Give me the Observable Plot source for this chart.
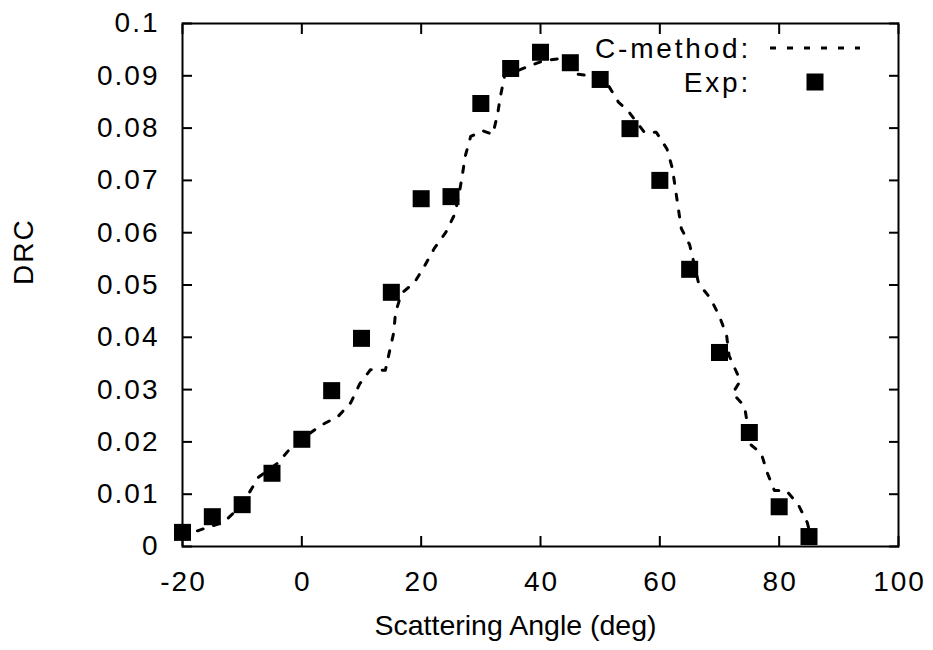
<!DOCTYPE html>
<html>
<head>
<meta charset="utf-8">
<script src="https://cdn.jsdelivr.net/npm/d3@7"></script>
<script src="https://cdn.jsdelivr.net/npm/@observablehq/plot@0.6"></script>
<style>
  html, body { margin: 0; padding: 0; background: #fff; }
  #chart { position: relative; width: 933px; height: 650px; }
  #chart svg text { letter-spacing: 2px; }
  #chart svg .xlab text { letter-spacing: 0px; }
  #chart svg .legend text { letter-spacing: 2.8px; }
</style>
</head>
<body>
<div id="chart"></div>
<script>
// Experimental points (scattering angle in deg, DRC)
const expAngle = [-20, -15, -10, -5, 0, 5, 10, 15, 20, 25, 30, 35, 40, 45, 50, 55, 60, 65, 70, 75, 80, 85];
const expDRC   = [0.0027, 0.0057, 0.0080, 0.0140, 0.0205, 0.0298, 0.0398, 0.0486, 0.0665, 0.0669, 0.0847,
                  0.0914, 0.0945, 0.0925, 0.0893, 0.0799, 0.0700, 0.0530, 0.0371, 0.0218, 0.0076, 0.0019];

// C-method curve
const cAngle = [-17.5, -13, -10, -7.3, -4.1, -2.2, 0, 3.1, 6.1, 8.2, 9.7, 11.5, 14.0, 14.7, 15.4, 15.7, 16.7,
                18.9, 20.6, 22.2, 24.1, 25.6, 26.3, 26.9, 27.4, 28.3, 30.3, 32.0, 32.8, 33.3, 34.0, 37.1,
                40.5, 43.3, 45.5, 48.4, 51.4, 53.1, 54.6, 57.4, 59.4, 61.2, 62.1, 62.6, 63.1, 63.6, 65.0,
                66.5, 68.5, 70.0, 71.2, 71.6, 73.5, 72.2, 74.2, 75.2, 77.0, 78.0, 79.2, 81.2, 83.2, 84.7, 85.3];
const cDRC   = [0.0030, 0.0047, 0.0080, 0.0132, 0.0159, 0.0184, 0.0205, 0.0231, 0.0249, 0.0275, 0.0311, 0.0338,
                0.0337, 0.0373, 0.0409, 0.0447, 0.0484, 0.0505, 0.0537, 0.0570, 0.0600, 0.0635, 0.0670, 0.0710,
                0.0747, 0.0784, 0.0795, 0.0788, 0.0826, 0.0862, 0.0900, 0.0914, 0.0929, 0.0933, 0.0904, 0.0900,
                0.0881, 0.0849, 0.0834, 0.0792, 0.0792, 0.0760, 0.0723, 0.0685, 0.0646, 0.0608, 0.0577, 0.0503,
                0.0474, 0.0440, 0.0403, 0.0365, 0.0317, 0.0293, 0.0268, 0.0195, 0.0178, 0.0141, 0.0107, 0.0107,
                0.0080, 0.0046, 0.0020];

const xTicks = [-20, 0, 20, 40, 60, 80, 100];
const yTicks = [0, 0.01, 0.02, 0.03, 0.04, 0.05, 0.06, 0.07, 0.08, 0.09, 0.1];
const xLabel = "Scattering Angle (deg)";
const yLabel = "DRC";
const legendLabels = ["C-method:", "Exp:"];

const expData = expAngle.map((a, i) => ({angle: a, drc: expDRC[i]}));
const cData = cAngle.map((a, i) => ({angle: a, drc: cDRC[i]}));

const FONT = "'Liberation Sans', Arial, Helvetica, sans-serif";
const FS = 28;

const chart = Plot.plot({
  width: 933,
  height: 650,
  marginLeft: 182,
  marginRight: 35,
  marginTop: 23,
  marginBottom: 104,
  style: {fontFamily: FONT, fontSize: FS + "px", color: "black", background: "white"},
  x: {domain: [-20, 100]},
  y: {domain: [0, 0.1]},
  marks: [
    Plot.line(cData, {x: "angle", y: "drc", stroke: "black", strokeWidth: 3, strokeDasharray: "6,11", curve: "linear"}),
    Plot.dot(expData, {x: "angle", y: "drc", symbol: "square", r: 9.6, fill: "black", stroke: null}),
    // tick labels
    Plot.axisX({ticks: xTicks, tickSize: 0, tickPadding: 25, tickFormat: d => String(d), fontSize: FS, dx: 1, label: null}),
    Plot.axisY({ticks: yTicks, tickSize: 0, tickPadding: 23, tickFormat: d => String(d), fontSize: FS, label: null}),
    // inward ticks on all four sides
    Plot.axisX({ticks: xTicks, tickSize: -10, strokeWidth: 2, tickFormat: () => "", label: null}),
    Plot.axisX({anchor: "top", ticks: xTicks, tickSize: -10, strokeWidth: 2, tickFormat: () => "", label: null}),
    Plot.axisY({ticks: yTicks, tickSize: -10, strokeWidth: 2, tickFormat: () => "", label: null}),
    Plot.axisY({anchor: "right", ticks: yTicks, tickSize: -10, strokeWidth: 2, tickFormat: () => "", label: null}),
    Plot.frame({stroke: "black", strokeWidth: 2}),
    Plot.text([xLabel], {text: d => d, frameAnchor: "bottom", dy: 88, dx: -25, fontSize: 28.5, fill: "black", className: "xlab"}),
    Plot.text([yLabel], {text: d => d, frameAnchor: "left", rotate: -90, dx: -158, fontSize: FS, fill: "black"})
  ]
});

document.getElementById("chart").appendChild(chart);

// Legend (inside plot, top right)
const svg = d3.select(chart);
const lg = svg.append("g").attr("class", "legend").attr("font-family", FONT).attr("font-size", FS).attr("fill", "black");
lg.append("text").attr("x", 751).attr("y", 48).attr("text-anchor", "end").attr("dy", "0.35em").text(legendLabels[0]);
lg.append("text").attr("x", 751).attr("y", 82).attr("text-anchor", "end").attr("dy", "0.35em").text(legendLabels[1]);
lg.append("line").attr("x1", 770).attr("x2", 860).attr("y1", 48).attr("y2", 48)
  .attr("stroke", "black").attr("stroke-width", 3).attr("stroke-dasharray", "6,11");
lg.append("rect").attr("x", 815 - 8.5).attr("y", 82 - 8.5).attr("width", 17).attr("height", 17).attr("fill", "black");
</script>
</body>
</html>
